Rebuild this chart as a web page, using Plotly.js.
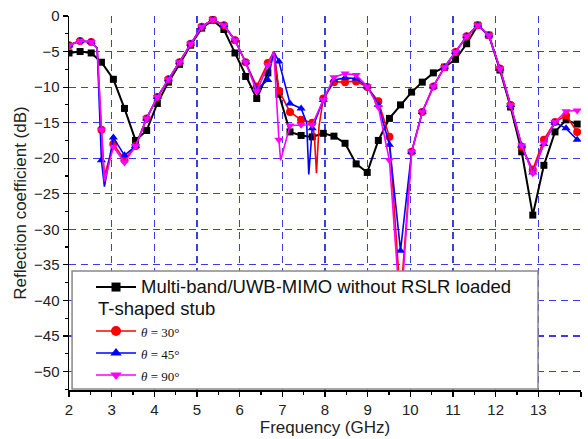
<!DOCTYPE html>
<html>
<head>
<meta charset="utf-8">
<script src="https://cdn.plot.ly/plotly-3.0.1.min.js"></script>
<style>html,body{margin:0;padding:0;background:#fff;}#chart{width:588px;height:439px;}</style>
</head>
<body>
<div id="chart"></div>
<script>
// Marker sample frequencies (GHz)
const freq = [2.0, 2.26, 2.52, 2.76, 3.04, 3.3, 3.56, 3.82, 4.07, 4.33, 4.59, 4.85, 5.11, 5.37, 5.63, 5.89, 6.14, 6.4, 6.66, 6.92, 7.18, 7.44, 7.7, 7.96, 8.21, 8.47, 8.73, 8.99, 9.25, 9.51, 9.77, 10.03, 10.28, 10.54, 10.8, 11.06, 11.32, 11.58, 11.84, 12.1, 12.35, 12.61, 12.87, 13.13, 13.39, 13.65, 13.91];

// Reflection coefficient (dB) at the marker frequencies
const s11NoStub = [-5.2, -5.0, -5.2, -6.5, -8.9, -13.0, -17.5, -16.1, -12.3, -9.3, -6.8, -4.1, -1.7, -0.6, -1.9, -5.2, -8.5, -11.6, -8.0, -11.0, -16.3, -16.8, -17.0, -16.5, -16.9, -17.9, -20.8, -22.0, -17.5, -14.4, -12.5, -10.7, -9.3, -8.0, -7.2, -6.1, -3.9, -1.3, -2.7, -7.6, -12.8, -19.1, -28.0, -21.0, -16.3, -14.6, -15.2];
const s11Theta30 = [-4.1, -3.5, -3.65, -16.0, -18.0, -20.2, -18.3, -14.4, -11.4, -8.9, -6.5, -3.9, -1.5, -0.5, -1.3, -3.4, -6.5, -9.9, -6.6, -10.5, -13.5, -14.6, -15.0, -11.6, -9.3, -9.3, -9.2, -10.0, -12.0, -17.0, -40.0, -19.1, -13.5, -9.9, -7.2, -5.05, -2.85, -1.3, -2.7, -7.4, -12.5, -18.4, -21.6, -17.4, -14.9, -14.0, -16.3];
const s11Theta45 = [-4.1, -3.5, -3.65, -20.3, -17.1, -19.6, -18.3, -14.4, -11.4, -8.9, -6.5, -3.9, -1.5, -0.5, -1.3, -3.4, -6.5, -10.3, -9.0, -6.4, -12.3, -13.0, -15.8, -11.8, -9.0, -8.7, -8.8, -9.9, -12.5, -18.1, -33.0, -19.1, -13.5, -9.9, -7.2, -5.05, -2.85, -1.3, -2.7, -7.4, -12.5, -18.2, -22.0, -18.0, -15.0, -15.8, -17.4];
const s11Theta90 = [-4.1, -3.5, -3.65, -16.0, -18.4, -20.6, -18.3, -14.4, -11.4, -8.9, -6.5, -3.9, -1.5, -0.5, -1.3, -3.4, -6.5, -10.6, -6.9, -17.4, -15.4, -15.3, -15.3, -11.8, -8.6, -8.1, -8.3, -9.9, -12.8, -20.3, -42.0, -19.1, -13.5, -9.9, -7.2, -5.05, -2.85, -1.3, -2.7, -7.4, -12.5, -18.2, -22.1, -17.9, -14.9, -13.4, -13.3];

// Extra curve points between markers (sharp peaks/dips, no marker drawn)
const extraFNoStub = [6.8];
const extraVNoStub = [-5.0];
const extraF30 = [2.66, 2.83, 6.8, 7.75, 7.8, 7.86];
const extraV30 = [-4.5, -22.5, -5.0, -16.8, -22.1, -15.5];
const extraF45 = [2.66, 2.83, 6.8, 7.57, 7.62];
const extraV45 = [-4.5, -24.0, -5.0, -15.0, -22.3];
const extraF90 = [2.66, 2.83, 6.8, 6.96];
const extraV90 = [-4.5, -23.3, -5.0, -20.3];

// Legend labels
const labelNoStub = 'Multi-band/UWB-MIMO without RSLR loaded';
const labelStub = 'T-shaped stub';
const label30 = '<i>θ</i> = 30°';
const label45 = '<i>θ</i> = 45°';
const label90 = '<i>θ</i> = 90°';

function merge(f, v, ef, ev) {
  const pts = f.map((x, i) => [x, v[i]]).concat(ef.map((x, i) => [x, ev[i]]));
  pts.sort((a, b) => a[0] - b[0]);
  return {x: pts.map(p => p[0]), y: pts.map(p => p[1])};
}

const serif = 'font-family:Liberation Serif, Times New Roman, serif;font-size:13px';
const series = [
  {v: s11NoStub, ef: extraFNoStub, ev: extraVNoStub, color: '#000000', symbol: 'square', size: 7, lw: 2,
   name: '<span style="font-size:18.5px">' + labelNoStub + '</span>', group: 'a'},
  {v: s11Theta30, ef: extraF30, ev: extraV30, color: '#ff0000', symbol: 'circle', size: 8, lw: 1.6,
   name: '<span style="' + serif + '">' + label30 + '</span>', group: 'b'},
  {v: s11Theta45, ef: extraF45, ev: extraV45, color: '#0000ff', symbol: 'triangle-up', size: 8, lw: 1.6,
   name: '<span style="' + serif + '">' + label45 + '</span>', group: 'b'},
  {v: s11Theta90, ef: extraF90, ev: extraV90, color: '#ff00ff', symbol: 'triangle-down', size: 8, lw: 1.6,
   name: '<span style="' + serif + '">' + label90 + '</span>', group: 'b'}
];

const traces = [];
series.forEach(s => {
  const line = merge(freq, s.v, s.ef, s.ev);
  traces.push({x: line.x, y: line.y, mode: 'lines', line: {color: s.color, width: s.lw},
    showlegend: false, legendgroup: s.group, hoverinfo: 'skip'});
  traces.push({x: freq, y: s.v, mode: 'markers', marker: {color: s.color, symbol: s.symbol, size: s.size},
    showlegend: false, legendgroup: s.group});
});
series.forEach(s => {
  traces.push({x: [null], y: [null], mode: 'lines+markers', name: s.name, legendgroup: s.group,
    line: {color: s.color, width: s.lw}, marker: {color: s.color, symbol: s.symbol, size: s.size + 2}});
});

const gridColor = 'rgb(60,60,230)';
const tickFont = {family: 'Liberation Sans, Arial, sans-serif', size: 15, color: '#222'};
const titleFont = {family: 'Liberation Sans, Arial, sans-serif', size: 17, color: '#222'};

const layout = {
  width: 588, height: 439,
  margin: {l: 69, r: 7, t: 16, b: 49},
  paper_bgcolor: '#fff', plot_bgcolor: '#fff',
  showlegend: true,
  xaxis: {
    range: [2, 14], tick0: 2, dtick: 1, showline: true, linecolor: '#000', linewidth: 1.5,
    ticks: 'outside', ticklen: 5, tickwidth: 1.2, tickcolor: '#000',
    minor: {dtick: 0.5, ticks: 'outside', ticklen: 3, tickcolor: '#000', showgrid: false},
    showgrid: true, gridcolor: gridColor, griddash: '7px,5px', gridwidth: 1.1, zeroline: false,
    tickfont: tickFont, title: {text: 'Frequency (GHz)', font: titleFont, standoff: 4}
  },
  yaxis: {
    range: [-52.6, 0], tick0: 0, dtick: 5, showline: true, linecolor: '#000', linewidth: 1.5,
    ticks: 'outside', ticklen: 5, tickwidth: 1.2, tickcolor: '#000',
    minor: {dtick: 2.5, ticks: 'outside', ticklen: 3, tickcolor: '#000', showgrid: false},
    showgrid: true, gridcolor: gridColor, griddash: '7px,5px', gridwidth: 1.1, zeroline: false,
    tickfont: tickFont, title: {text: 'Reflection coefficient (dB)', font: titleFont, standoff: 3}
  },
  shapes: [{
    type: 'rect', xref: 'paper', yref: 'paper', x0: 0.006, x1: 0.916, y0: 0.003, y1: 0.318,
    fillcolor: '#fff', line: {color: '#888', width: 1.5}, layer: 'above'
  }],
  legend: {
    x: 0.043, y: 0.318, xanchor: 'left', yanchor: 'top',
    bgcolor: 'rgba(0,0,0,0)', borderwidth: 0,
    font: {family: 'Liberation Sans, Arial, sans-serif', size: 14.6, color: '#111'},
    traceorder: 'grouped', tracegroupgap: 22, itemwidth: 40
  },
  annotations: [{
    xref: 'paper', yref: 'paper', x: 0.053, y: 0.2166, xanchor: 'left', yanchor: 'middle',
    text: labelStub, showarrow: false,
    font: {family: 'Liberation Sans, Arial, sans-serif', size: 18.5, color: '#111'}
  }]
};

Plotly.newPlot('chart', traces, layout, {displayModeBar: false, staticPlot: true});
</script>
</body>
</html>
